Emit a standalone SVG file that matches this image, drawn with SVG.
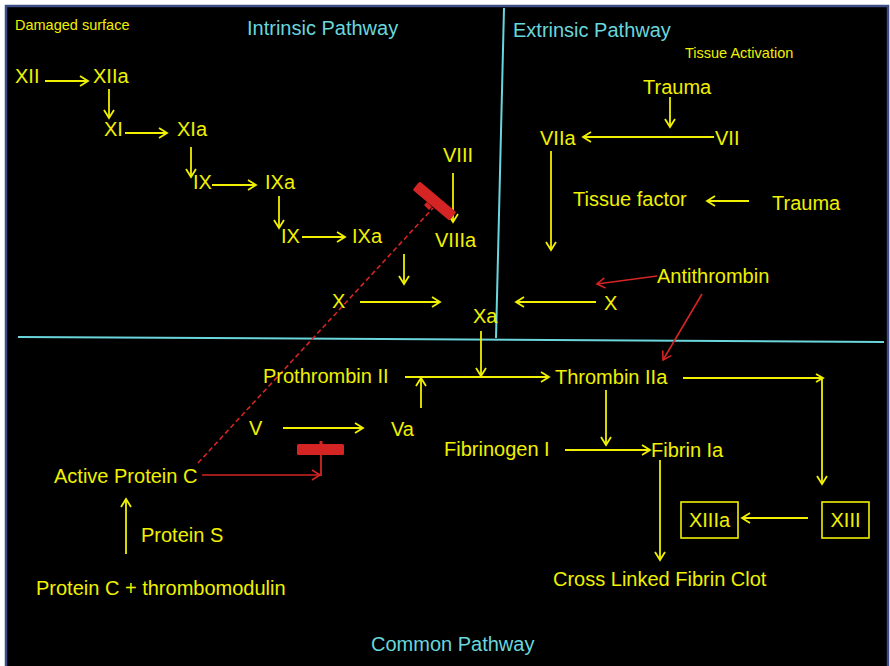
<svg xmlns="http://www.w3.org/2000/svg" width="890" height="666" viewBox="0 0 890 666">
<defs>
<style>
text{font-family:"Liberation Sans",Arial,sans-serif;}
.y{fill:#f0f000;font-size:20px;}
.s{fill:#f0f000;font-size:14.5px;}
.c{fill:#6ad6dc;font-size:20px;}
.ya{stroke:#f0f000;stroke-width:1.8;fill:none;marker-end:url(#ah);}
.yl{stroke:#f0f000;stroke-width:1.8;fill:none;}
.ra{stroke:#d42424;stroke-width:1.6;fill:none;marker-end:url(#rh);}
.div{stroke:#6ad6dc;stroke-width:2;fill:none;}
.box{stroke:#f0f000;stroke-width:1.6;fill:none;}
.bar{fill:#d42424;}
</style>
<marker id="ah" viewBox="-10 -7 12 14" markerWidth="12" markerHeight="14" refX="0" refY="0" markerUnits="userSpaceOnUse" orient="auto" overflow="visible">
<path d="M-8,-5 L0,0 L-8,5" fill="none" stroke="#f0f000" stroke-width="1.8"/>
</marker>
<marker id="rh" viewBox="-10 -7 12 14" markerWidth="12" markerHeight="14" refX="0" refY="0" markerUnits="userSpaceOnUse" orient="auto" overflow="visible">
<path d="M-8,-5 L0,0 L-8,5" fill="none" stroke="#d42424" stroke-width="1.6"/>
</marker>
</defs>
<rect x="0" y="0" width="890" height="666" fill="#ffffff"/>
<rect x="6" y="6" width="882" height="664" fill="#000000" stroke="#3d4d86" stroke-width="2.5"/>

<g id="dividers">
<line class="div" x1="504" y1="8" x2="496" y2="338"/>
<line class="div" x1="18" y1="337" x2="884" y2="342"/>
</g>

<g id="headings">
<text class="s" x="15" y="30">Damaged surface</text>
<text class="c" x="247" y="35">Intrinsic Pathway</text>
<text class="c" x="513" y="37">Extrinsic Pathway</text>
<text class="s" x="685" y="58">Tissue Activation</text>
<text class="c" x="371" y="651">Common Pathway</text>
</g>

<g id="connectors">
<line class="ya" x1="45" y1="81" x2="88" y2="81"/>
<line class="ya" x1="109" y1="89" x2="109" y2="118"/>
<line class="ya" x1="125" y1="133" x2="167" y2="133"/>
<line class="ya" x1="191" y1="147" x2="191" y2="177"/>
<line class="ya" x1="212" y1="185" x2="256" y2="185"/>
<line class="ya" x1="279" y1="196" x2="279" y2="228"/>
<line class="ya" x1="302" y1="237" x2="345" y2="237"/>
<line class="ya" x1="453" y1="173" x2="453" y2="222"/>
<line class="ya" x1="404" y1="254" x2="404" y2="284"/>
<line class="ya" x1="360" y1="302" x2="440" y2="302"/>
<line class="ya" x1="481" y1="331" x2="481" y2="376"/>
<line class="ya" x1="670" y1="97" x2="670" y2="127"/>
<line class="ya" x1="714" y1="137" x2="583" y2="137"/>
<line class="ya" x1="551" y1="151" x2="551" y2="250"/>
<line class="ya" x1="749" y1="201" x2="707" y2="201"/>
<line class="ya" x1="596" y1="302" x2="516" y2="302"/>
<line class="ra" x1="657" y1="276" x2="597" y2="284"/>
<line class="ra" x1="702" y1="294" x2="663" y2="360"/>
<line class="ya" x1="405" y1="377" x2="549" y2="377"/>
<line class="ya" x1="421" y1="408" x2="421" y2="378"/>
<line class="yl" x1="683" y1="378" x2="822" y2="378"/>
<line class="ya" x1="822" y1="378" x2="822" y2="484"/>
<path class="yl" d="M816,374 L823,378 L816,382"/>
<line class="ya" x1="283" y1="428" x2="363" y2="428"/>
<line class="ya" x1="606" y1="390" x2="606" y2="445"/>
<line class="ya" x1="565" y1="450" x2="650" y2="450"/>
<line class="ya" x1="660" y1="460" x2="660" y2="560"/>
<line class="ya" x1="808" y1="518" x2="742" y2="518"/>
<line class="ya" x1="126" y1="554" x2="126" y2="499"/>
<line x1="198" y1="463" x2="433" y2="208" stroke="#d42424" stroke-width="1.6" stroke-dasharray="5,3"/>
<line class="ra" x1="202" y1="475" x2="320" y2="475"/>
<line x1="321" y1="454" x2="321" y2="476" stroke="#d42424" stroke-width="1.8"/>
</g>

<g id="inhibitors">
<rect class="bar" x="297" y="444" width="47" height="11" rx="1.5"/>
<rect class="bar" x="319.5" y="441" width="3" height="4"/>
<rect class="bar" x="410.5" y="195.5" width="48" height="11" rx="1.5" transform="rotate(40 434.5 201)"/>
<path class="bar" d="M427,202 L432,207 L429,210 L424,205 Z"/>
</g>

<g id="intrinsic">
<text class="y" x="15" y="83">XII</text>
<text class="y" x="93" y="83">XIIa</text>
<text class="y" x="104" y="136">XI</text>
<text class="y" x="177" y="136">XIa</text>
<text class="y" x="193" y="189">IX</text>
<text class="y" x="265" y="189">IXa</text>
<text class="y" x="281" y="243">IX</text>
<text class="y" x="352" y="243">IXa</text>
<text class="y" x="443" y="162">VIII</text>
<text class="y" x="435" y="247">VIIIa</text>
<text class="y" x="332" y="308">X</text>
<text class="y" x="473" y="323">Xa</text>
</g>

<g id="extrinsic">
<text class="y" x="643" y="94">Trauma</text>
<text class="y" x="540" y="145">VIIa</text>
<text class="y" x="715" y="145">VII</text>
<text class="y" x="573" y="206">Tissue factor</text>
<text class="y" x="772" y="210">Trauma</text>
<text class="y" x="657" y="283">Antithrombin</text>
<text class="y" x="604" y="310">X</text>
</g>

<g id="common">
<text class="y" x="263" y="383">Prothrombin II</text>
<text class="y" x="555" y="384">Thrombin IIa</text>
<text class="y" x="249" y="435">V</text>
<text class="y" x="391" y="436">Va</text>
<text class="y" x="444" y="456">Fibrinogen I</text>
<text class="y" x="651" y="457">Fibrin Ia</text>
<text class="y" x="54" y="483">Active Protein C</text>
<text class="y" x="141" y="542">Protein S</text>
<text class="y" x="36" y="595">Protein C + thrombomodulin</text>
<text class="y" x="553" y="586">Cross Linked Fibrin Clot</text>
</g>

<g id="node-XIIIa">
<rect class="box" x="681" y="502" width="57" height="36"/>
<text class="y" x="709.5" y="527" text-anchor="middle">XIIIa</text>
</g>
<g id="node-XIII">
<rect class="box" x="822" y="502" width="47" height="36"/>
<text class="y" x="845.5" y="527" text-anchor="middle">XIII</text>
</g>
</svg>
